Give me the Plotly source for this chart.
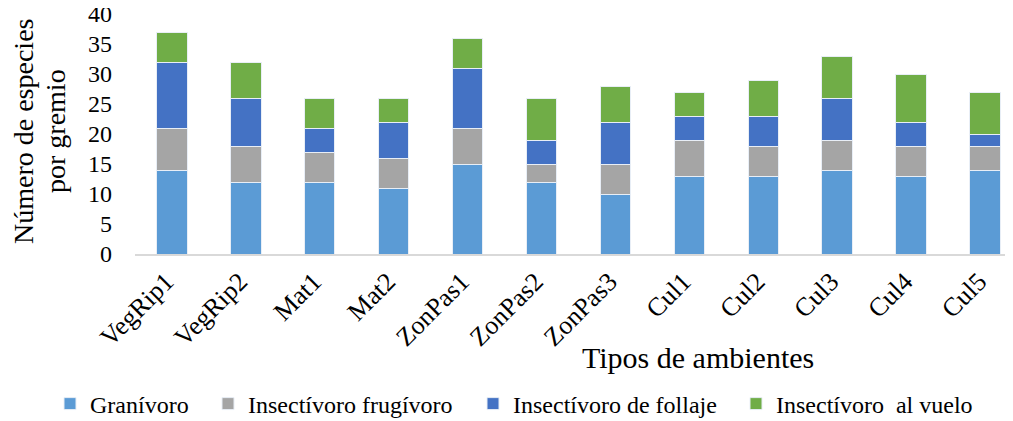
import plotly.graph_objects as go

ambientes = ["VegRip1", "VegRip2", "Mat1", "Mat2", "ZonPas1", "ZonPas2",
             "ZonPas3", "Cul1", "Cul2", "Cul3", "Cul4", "Cul5"]

granivoro = [14, 12, 12, 11, 15, 12, 10, 13, 13, 14, 13, 14]
frugivoro = [7, 6, 5, 5, 6, 3, 5, 6, 5, 5, 5, 4]
follaje = [11, 8, 4, 6, 10, 4, 7, 4, 5, 7, 4, 2]
vuelo = [5, 6, 5, 4, 5, 7, 6, 4, 6, 7, 8, 7]

series = [
    ("Granívoro", granivoro, "#5B9BD5", 113),
    ("Insectívoro frugívoro", frugivoro, "#A5A5A5", 220),
    ("Insectívoro de follaje", follaje, "#4472C4", 218),
    ("Insectívoro  al vuelo", vuelo, "#70AD47", 208),
]

FONT = "Liberation Serif"
OFF = 8  # margen por defecto del <body> en la página
W, H = 1013 - OFF, 421 - OFF
L, R, T, B = 135 - OFF, 0, 14 - OFF, 167
PW, PH = W - L - R, H - T - B
Y0 = H - B  # borde inferior del área de trazado

fig = go.Figure()

for name, vals, color, lw in series:
    fig.add_trace(go.Bar(
        x=ambientes,
        y=vals,
        name=name,
        marker=dict(color=color, line=dict(color="#E8EEF6", width=1)),
        width=0.41,
        legendwidth=lw,
    ))

fig.update_layout(
    barmode="stack",
    width=W, height=H,
    margin=dict(l=L, r=R, t=T, b=B, autoexpand=False),
    paper_bgcolor="white",
    plot_bgcolor="white",
    font=dict(family=FONT, size=24, color="black"),
    showlegend=True,
    legend=dict(
        orientation="h",
        x=(42 - L) / PW, xanchor="left",
        y=-(404 - OFF - Y0) / PH, yanchor="middle",
        font=dict(size=24),
        traceorder="normal",
        itemwidth=30,
    ),
    xaxis=dict(
        range=[-0.5, 11.38],
        tickangle=-45,
        showline=True, linecolor="#D9D9D9", linewidth=2,
        ticks="",
        tickfont=dict(size=26),
        ticklabelshift=-6,
    ),
    yaxis=dict(
        range=[0, 40],
        dtick=5,
        showgrid=False,
        zeroline=False,
        ticks="",
        ticklabelstandoff=22,
        ticklabeloverflow="allow",
        tickfont=dict(size=24),
    ),
)

# títulos de ejes
fig.add_annotation(text="Número de especies", xref="paper", yref="paper",
                   x=-(L - 15) / PW, y=0.5, yshift=3, xanchor="center", yanchor="middle",
                   textangle=-90, showarrow=False, font=dict(size=28))
fig.add_annotation(text="por gremio", xref="paper", yref="paper",
                   x=-(L - 47) / PW, y=0.5, yshift=3, xanchor="center", yanchor="middle",
                   textangle=-90, showarrow=False, font=dict(size=28))
fig.add_annotation(text="Tipos de ambientes", xref="paper", yref="paper",
                   x=(698 - OFF - L) / PW, y=-(357 - OFF - Y0) / PH,
                   xanchor="center", yanchor="middle",
                   showarrow=False, font=dict(size=30))

fig.write_html("out.html")
